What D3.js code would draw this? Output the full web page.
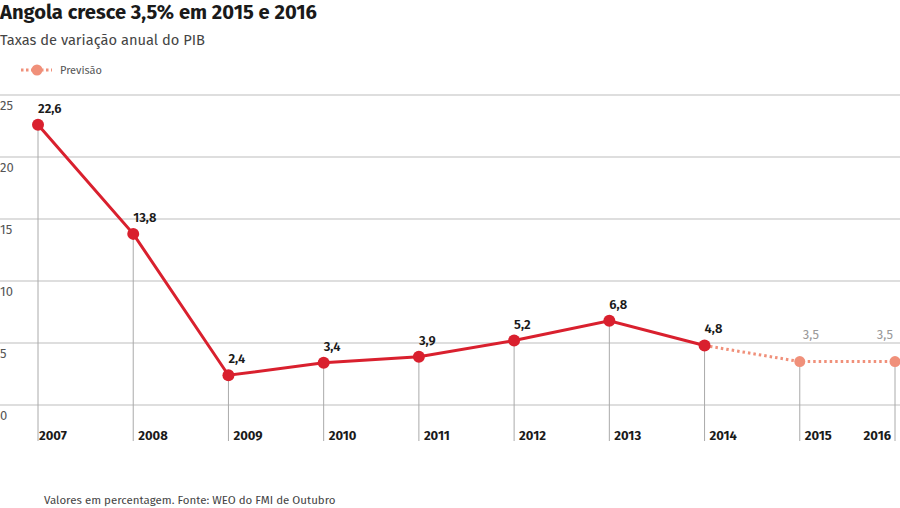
<!DOCTYPE html>
<html>
<head>
<meta charset="utf-8">
<script src="https://cdn.jsdelivr.net/npm/d3@7"></script>
<style>
  body { margin: 0; background: #fff; }
  svg { display: block; font-family: "Fira Sans", "Open Sans", sans-serif; }
</style>
</head>
<body>
<div id="chart"></div>
<script>
const years = ["2007", "2008", "2009", "2010", "2011", "2012", "2013", "2014", "2015", "2016"];
const values = [22.6, 13.8, 2.4, 3.4, 3.9, 5.2, 6.8, 4.8, 3.5, 3.5];
const labels = ["22,6", "13,8", "2,4", "3,4", "3,9", "5,2", "6,8", "4,8", "3,5", "3,5"];
const forecastFrom = "2014";
const yTicks = [0, 5, 10, 15, 20, 25];

const width = 900;
const height = 508;

const svg = d3.select("#chart").append("svg")
    .attr("width", width)
    .attr("height", height);

const x = d3.scalePoint().domain(years).range([38, 895]);
const y = d3.scaleLinear().domain([0, 25]).range([405, 95]);

const data = years.map((yr, i) => ({ year: yr, value: values[i], label: labels[i], i }));
const fi = years.indexOf(forecastFrom);
const actual = data.filter(d => d.i <= fi);
const forecast = data.filter(d => d.i >= fi);

// title
svg.append("text")
    .attr("x", 0).attr("y", 19)
    .attr("font-size", 20).attr("font-weight", 700)
    .attr("fill", "#1a1a1a")
    .attr("textLength", 317).attr("lengthAdjust", "spacingAndGlyphs")
    .text("Angola cresce 3,5% em 2015 e 2016");

svg.append("text")
    .attr("x", 0).attr("y", 45)
    .attr("font-size", 14)
    .attr("fill", "#444")
    .attr("textLength", 205).attr("lengthAdjust", "spacingAndGlyphs")
    .text("Taxas de variação anual do PIB");

// legend
const legend = svg.append("g").attr("transform", "translate(0,70)");
legend.append("line")
    .attr("x1", 21).attr("x2", 52)
    .attr("stroke", "#f0907a").attr("stroke-width", 3)
    .attr("stroke-dasharray", "2.5,2.5");
legend.append("circle").attr("cx", 37).attr("r", 5.5).attr("fill", "#f0907a");
legend.append("text")
    .attr("x", 60).attr("y", 4)
    .attr("font-size", 11).attr("fill", "#555")
    .text("Previsão");

// grid
svg.append("g")
    .selectAll("line")
    .data(yTicks)
    .join("line")
    .attr("x1", 0).attr("x2", width)
    .attr("y1", d => y(d)).attr("y2", d => y(d))
    .attr("stroke", "#bdbdbd").attr("stroke-width", 1);

svg.append("g")
    .selectAll("text")
    .data(yTicks)
    .join("text")
    .attr("x", 0)
    .attr("y", d => y(d) + 15)
    .attr("font-size", 13).attr("fill", "#555")
    .text(d => d);

// drop lines
svg.append("g")
    .selectAll("line")
    .data(data)
    .join("line")
    .attr("x1", d => x(d.year)).attr("x2", d => x(d.year))
    .attr("y1", d => y(d.value)).attr("y2", 441)
    .attr("stroke", "#aaa").attr("stroke-width", 1);

// year labels
const lastYear = years[years.length - 1];
svg.append("g")
    .selectAll("text")
    .data(data)
    .join("text")
    .attr("x", d => d.year === lastYear ? x(d.year) - 4 : x(d.year) + (d.i === 0 ? 1 : 5))
    .attr("y", 440)
    .attr("text-anchor", d => d.year === lastYear ? "end" : "start")
    .attr("font-size", 13).attr("font-weight", 700).attr("fill", "#1a1a1a")
    .text(d => d.year);

const line = d3.line().x(d => x(d.year)).y(d => y(d.value));

svg.append("path")
    .datum(forecast)
    .attr("d", line)
    .attr("fill", "none")
    .attr("stroke", "#f0907a").attr("stroke-width", 3)
    .attr("stroke-dasharray", "2.5,3");

svg.append("path")
    .datum(actual)
    .attr("d", line)
    .attr("fill", "none")
    .attr("stroke", "#d9202e").attr("stroke-width", 3);

svg.append("g")
    .selectAll("circle")
    .data(data)
    .join("circle")
    .attr("cx", d => x(d.year)).attr("cy", d => y(d.value))
    .attr("r", d => d.i > fi ? 5.5 : 6)
    .attr("fill", d => d.i > fi ? "#f0907a" : "#d9202e");

// value labels
svg.append("g")
    .selectAll("text")
    .data(data)
    .join("text")
    .attr("x", d => d.year === lastYear ? x(d.year) - 2 : x(d.year) + (d.i > fi ? 3 : 0))
    .attr("y", d => d.i > fi ? y(d.value) - 23 : y(d.value) - 12)
    .attr("text-anchor", d => d.year === lastYear ? "end" : "start")
    .attr("font-size", 13)
    .attr("font-weight", d => d.i > fi ? 400 : 600)
    .attr("fill", d => d.i > fi ? "#999" : "#1a1a1a")
    .text(d => d.label);

// footer
svg.append("text")
    .attr("x", 44).attr("y", 504)
    .attr("font-size", 11.5).attr("fill", "#444")
    .text("Valores em percentagem. Fonte: WEO do FMI de Outubro");
</script>
</body>
</html>
